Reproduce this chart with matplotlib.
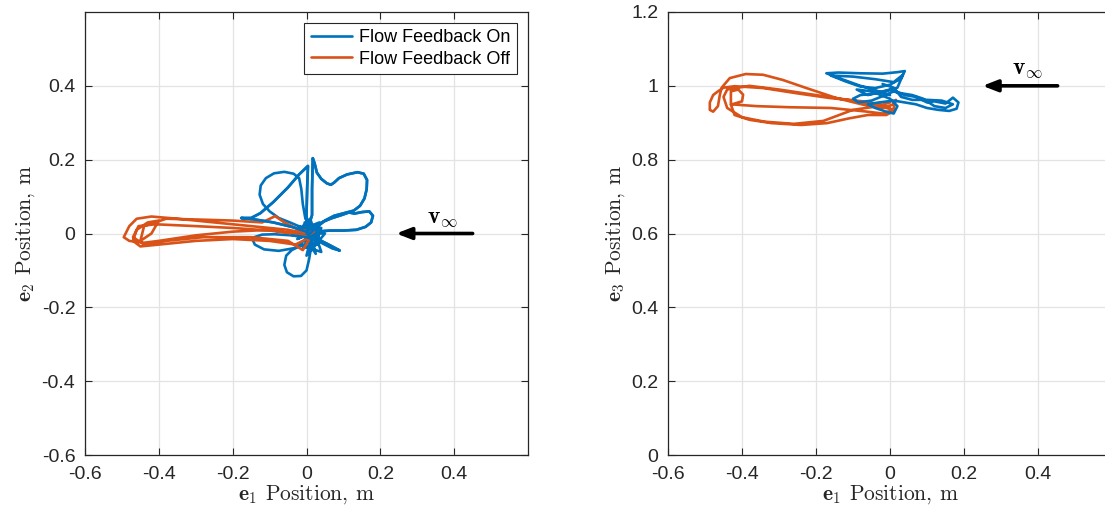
import matplotlib
matplotlib.use("Agg")
import matplotlib.pyplot as plt

plt.rcParams['mathtext.fontset'] = 'cm'
plt.rcParams['font.family'] = ['Liberation Sans', 'DejaVu Sans']
plt.rcParams['axes.unicode_minus'] = False

BLUE = '#0072BD'
ORANGE = '#D95319'
DARK = '#262626'

# ---- Data: left panel (e1, e2) points ----
on_left = [
    (0.000, 0.000), (0.015, 0.050), (0.015, 0.120), (0.017, 0.204), (0.022, 0.190), (0.028, 0.165),
    (0.040, 0.148), (0.055, 0.136), (0.066, 0.132), (0.075, 0.138), (0.088, 0.150), (0.110, 0.160),
    (0.138, 0.166), (0.155, 0.162), (0.164, 0.145), (0.163, 0.120), (0.157, 0.095), (0.145, 0.075),
    (0.128, 0.062), (0.105, 0.056), (0.075, 0.048), (0.050, 0.035), (0.025, 0.015), (0.005, -0.005),
    (0.000, 0.050), (0.002, 0.130), (0.004, 0.183), (-0.020, 0.160), (-0.050, 0.125), (-0.090, 0.085),
    (-0.125, 0.055), (-0.150, 0.042), (-0.177, 0.042), (-0.140, 0.038), (-0.090, 0.030), (-0.040, 0.018),
    (0.000, 0.005), (0.025, 0.020), (0.045, 0.032), (0.070, 0.042), (0.095, 0.050), (0.115, 0.057),
    (0.130, 0.054), (0.150, 0.058), (0.170, 0.060), (0.180, 0.048), (0.175, 0.030), (0.160, 0.018),
    (0.135, 0.010), (0.100, 0.008), (0.065, 0.008), (0.035, 0.006), (0.010, -0.010), (0.030, -0.015),
    (0.060, -0.030), (0.090, -0.046), (0.070, -0.040), (0.035, -0.022), (0.000, -0.010), (-0.040, -0.005),
    (-0.087, -0.002), (-0.120, -0.003), (-0.148, -0.012), (-0.140, -0.030), (-0.115, -0.043),
    (-0.075, -0.047), (-0.035, -0.040), (-0.010, -0.030), (-0.040, -0.045), (-0.055, -0.060),
    (-0.060, -0.085), (-0.053, -0.105), (-0.035, -0.116), (-0.015, -0.115), (0.000, -0.100),
    (0.007, -0.070), (0.012, -0.040), (0.015, -0.015), (-0.010, 0.015), (-0.040, 0.028), (-0.075, 0.042),
    (-0.100, 0.060), (-0.118, 0.080), (-0.127, 0.105), (-0.124, 0.130), (-0.110, 0.150), (-0.088, 0.163),
    (-0.060, 0.167), (-0.035, 0.162), (-0.020, 0.150), (-0.014, 0.120), (-0.010, 0.080), (-0.003, 0.040),
    (0.030, 0.010), (-0.020, -0.030), (0.040, -0.050), (0.010, 0.040), (-0.030, 0.000), (0.050, 0.000),
    (0.000, -0.060), (0.020, 0.020), (-0.010, -0.040), (0.030, -0.030), (0.035, 0.030), (-0.015, 0.010),
    (0.025, -0.055), (0.010, 0.000), (-0.025, -0.015), (0.040, 0.015), (0.015, -0.045), (-0.005, 0.030),
    (0.045, -0.025), (-0.020, 0.020), (0.020, -0.005), (0.005, -0.035), (0.030, 0.025), (0.000, 0.000),
]

off_left = [
    (0.000, 0.000), (-0.050, 0.010), (-0.150, 0.020), (-0.250, 0.030), (-0.350, 0.040), (-0.420, 0.046),
    (-0.460, 0.040), (-0.480, 0.020), (-0.495, -0.010), (-0.480, -0.020), (-0.440, -0.025),
    (-0.400, -0.020), (-0.300, -0.005), (-0.200, 0.005), (-0.100, 0.010), (-0.040, 0.000), (0.010, -0.010),
    (-0.030, -0.030), (-0.100, -0.020), (-0.200, -0.015), (-0.300, -0.020), (-0.400, -0.030),
    (-0.450, -0.035), (-0.470, -0.020), (-0.460, 0.010), (-0.430, 0.030), (-0.400, 0.035), (-0.420, 0.000),
    (-0.450, -0.020), (-0.440, 0.020), (-0.380, 0.040), (-0.300, 0.038), (-0.200, 0.035), (-0.120, 0.030),
    (-0.085, 0.047), (-0.060, 0.030), (-0.020, 0.010), (0.020, 0.005), (-0.010, -0.045), (-0.050, -0.020),
    (-0.150, -0.010), (-0.280, -0.010), (-0.380, -0.020), (-0.440, -0.030), (-0.470, -0.010),
    (-0.455, 0.020), (-0.410, 0.025), (-0.300, 0.020), (-0.200, 0.015), (-0.100, 0.008), (-0.030, 0.000),
]

# ---- Data: right panel (e1, e3) points ----
on_right = [
    (0.000, 0.975), (-0.030, 0.985), (-0.080, 1.000), (-0.130, 1.018), (-0.172, 1.034), (-0.140, 1.036),
    (-0.080, 1.034), (-0.020, 1.033), (0.020, 1.037), (0.040, 1.040), (0.030, 1.020), (0.000, 1.003),
    (-0.040, 0.994), (-0.080, 0.998), (-0.120, 1.012), (-0.160, 1.028), (-0.100, 1.025), (-0.040, 1.018),
    (0.010, 1.010), (0.035, 1.030), (0.020, 0.995), (-0.030, 0.980), (-0.080, 0.975), (-0.100, 0.965),
    (-0.085, 0.955), (-0.050, 0.960), (-0.020, 0.972), (0.010, 0.985), (0.040, 0.975), (0.070, 0.970),
    (0.100, 0.955), (0.120, 0.958), (0.150, 0.952), (0.170, 0.968), (0.185, 0.955), (0.180, 0.938),
    (0.160, 0.932), (0.130, 0.935), (0.100, 0.940), (0.070, 0.950), (0.040, 0.955), (0.010, 0.960),
    (-0.030, 0.955), (-0.060, 0.950), (-0.040, 0.940), (-0.010, 0.930), (0.010, 0.925), (0.020, 0.945),
    (0.000, 0.965), (-0.050, 0.985), (-0.090, 0.990), (-0.060, 0.975), (0.000, 0.990), (0.030, 0.980),
    (0.060, 0.975), (0.090, 0.965), (0.120, 0.945), (0.150, 0.940), (0.170, 0.950), (0.140, 0.960),
    (0.100, 0.962), (0.060, 0.962), (0.030, 0.970), (0.010, 0.995), (-0.020, 1.005),
]

off_right = [
    (0.000, 0.955), (-0.020, 0.949), (-0.073, 0.958), (-0.163, 0.967), (-0.253, 0.980), (-0.343, 0.994),
    (-0.420, 0.999), (-0.450, 0.995), (-0.465, 0.985), (-0.478, 0.975), (-0.487, 0.955), (-0.487, 0.935),
    (-0.478, 0.930), (-0.465, 0.945), (-0.460, 0.975), (-0.455, 0.995), (-0.433, 1.021), (-0.390, 1.032),
    (-0.343, 1.030), (-0.290, 1.016), (-0.226, 0.994), (-0.145, 0.967), (-0.073, 0.949), (-0.020, 0.940),
    (0.007, 0.949), (0.016, 0.962), (0.007, 0.930), (-0.010, 0.921), (-0.060, 0.921), (-0.110, 0.912),
    (-0.170, 0.899), (-0.240, 0.894), (-0.320, 0.899), (-0.380, 0.908), (-0.420, 0.921), (-0.430, 0.949),
    (-0.400, 0.958), (-0.397, 0.976), (-0.410, 0.990), (-0.430, 0.985), (-0.430, 0.950), (-0.360, 0.945),
    (-0.270, 0.942), (-0.160, 0.940), (-0.070, 0.931), (-0.020, 0.925), (0.010, 0.935), (-0.030, 0.945),
    (-0.100, 0.935), (-0.180, 0.905), (-0.260, 0.897), (-0.340, 0.903), (-0.400, 0.915), (-0.440, 0.940),
    (-0.450, 0.970), (-0.440, 0.990), (-0.380, 1.000), (-0.300, 0.990), (-0.200, 0.975), (-0.100, 0.960),
    (-0.040, 0.950), (0.000, 0.940),
]

x_ticks = [-0.6, -0.4, -0.2, 0, 0.2, 0.4]
x_ticklabels = ['-0.6', '-0.4', '-0.2', '0', '0.2', '0.4']
y_ticks_left = [-0.6, -0.4, -0.2, 0, 0.2, 0.4]
y_ticklabels_left = ['-0.6', '-0.4', '-0.2', '0', '0.2', '0.4']
y_ticks_right = [0, 0.2, 0.4, 0.6, 0.8, 1.0, 1.2]
y_ticklabels_right = ['0', '0.2', '0.4', '0.6', '0.8', '1', '1.2']
series_names = ['Flow Feedback On', 'Flow Feedback Off']

W, H = 1105, 519
fig = plt.figure(figsize=(W / 100, H / 100), dpi=100)
ax1 = fig.add_axes([85 / W, (H - 455) / H, 443 / W, 443 / H])
ax2 = fig.add_axes([668 / W, (H - 455) / H, 444 / W, 443 / H])


def style(ax, xt, xtl, yt, ytl, xlim, ylim):
    ax.set_xlim(*xlim)
    ax.set_ylim(*ylim)
    ax.set_xticks(xt)
    ax.set_xticklabels(xtl)
    ax.set_yticks(yt)
    ax.set_yticklabels(ytl)
    ax.grid(True, color='#e3e3e3', lw=0.9)
    ax.set_axisbelow(True)
    ax.tick_params(direction='in', top=True, right=True, length=5, width=0.8,
                   colors=DARK, labelsize=14)
    ax.tick_params(axis='x', pad=8)
    ax.tick_params(axis='y', pad=7)
    for s in ax.spines.values():
        s.set_color(DARK)
        s.set_linewidth(0.9)


def xs(pts):
    return [p[0] for p in pts]


def ys(pts):
    return [p[1] for p in pts]


lw = 1.9
kw = dict(lw=lw, solid_joinstyle='round', solid_capstyle='round')
ax1.plot(xs(on_left), ys(on_left), color=BLUE, label=series_names[0], **kw)
ax1.plot(xs(off_left), ys(off_left), color=ORANGE, label=series_names[1], **kw)
ax1.plot(xs(on_left)[:60], ys(on_left)[:60], color=BLUE, **kw)
style(ax1, x_ticks, x_ticklabels, y_ticks_left, y_ticklabels_left, (-0.6, 0.6), (-0.6, 0.6))

ax2.plot(xs(off_right), ys(off_right), color=ORANGE, **kw)
ax2.plot(xs(on_right), ys(on_right), color=BLUE, **kw)
style(ax2, x_ticks, x_ticklabels, y_ticks_right, y_ticklabels_right, (-0.6, 0.6), (0, 1.2))

labfs = 15.5
lab = dict(fontsize=labfs, color=DARK, family='cmr10')
ax1.set_xlabel(r'$\mathbf{e}_1$ Position, m', labelpad=0, **lab)
ax1.set_ylabel(r'$\mathbf{e}_2$ Position, m', labelpad=3, **lab)
ax2.set_xlabel(r'$\mathbf{e}_1$ Position, m', labelpad=0, **lab)
ax2.set_ylabel(r'$\mathbf{e}_3$ Position, m', labelpad=3, **lab)

leg = ax1.legend(loc='upper right', fontsize=13, frameon=True, fancybox=False, framealpha=1,
                 edgecolor=DARK, borderpad=0.35, labelspacing=0.25, handlelength=2.3,
                 handletextpad=0.4, borderaxespad=0.6)
leg.get_frame().set_linewidth(0.8)

arrow_props = dict(arrowstyle='-|>,head_length=0.9,head_width=0.35', color='black', lw=2.6,
                   shrinkA=0, shrinkB=0)
ax1.annotate('', xy=(0.243, 0.0), xytext=(0.45, 0.0), arrowprops=arrow_props)
ax1.text(0.327, 0.042, r'$\mathbf{v}_\infty$', fontsize=17, ha='left', va='center')
ax2.annotate('', xy=(0.25, 1.0), xytext=(0.453, 1.0), arrowprops=arrow_props)
ax2.text(0.33, 1.046, r'$\mathbf{v}_\infty$', fontsize=17, ha='left', va='center')

fig.savefig('out.png', dpi=100)
